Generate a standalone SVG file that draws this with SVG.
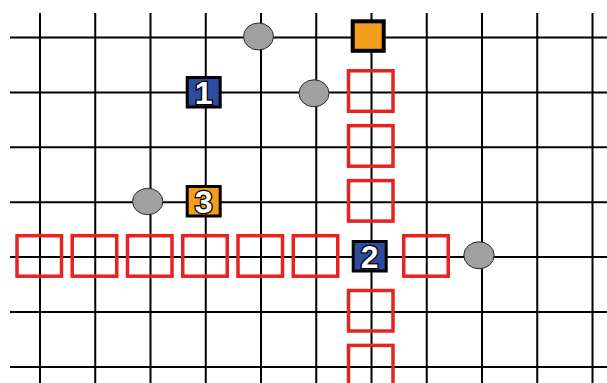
<svg xmlns="http://www.w3.org/2000/svg" width="607" height="383" viewBox="0 0 607 383">
<style>
.g{stroke:#000;stroke-width:2;fill:none}
.red{fill:none;stroke:#E52421;stroke-width:3.5}
.dot{fill:#A0A0A0;stroke:#2a2a2a;stroke-width:1}
.blue{fill:#2F4B9E;stroke:#000;stroke-width:3}
.org{fill:#F59E1E;stroke:#000;stroke-width:3}
.num{font-family:"Liberation Sans",Arial,sans-serif;font-weight:bold;font-size:32px;fill:#fff;stroke:#000;stroke-width:2.6;paint-order:stroke;text-anchor:middle}
</style>
<rect width="607" height="383" fill="#fff"/>
<g id="connectors">
<path class="g" d="M40 13V383M95.25 13V383M150.5 13V383M205.75 13V383M261 13V383M316.25 13V383M371.5 13V383M426.75 13V383M482 13V383M537.25 13V383M592.5 13V383"/>
<path class="g" d="M10 37.5H607M10 92.4H607M10 147.3H607M10 202.2H607M10 257.1H607M10 312H607M10 366.9H607"/>
</g>
<g id="red-squares">
<rect class="red" x="17" y="235.7" width="44.5" height="40.5"/>
<rect class="red" x="72.25" y="235.7" width="44.5" height="40.5"/>
<rect class="red" x="127.5" y="235.7" width="44.5" height="40.5"/>
<rect class="red" x="182.75" y="235.7" width="44.5" height="40.5"/>
<rect class="red" x="238" y="235.7" width="44.5" height="40.5"/>
<rect class="red" x="293.25" y="235.7" width="44.5" height="40.5"/>
<rect class="red" x="403.75" y="235.7" width="44.5" height="40.5"/>
<rect class="red" x="348.5" y="70.8" width="44.5" height="40.5"/>
<rect class="red" x="348.5" y="125.7" width="44.5" height="40.5"/>
<rect class="red" x="348.5" y="180.6" width="44.5" height="40.5"/>
<rect class="red" x="348.5" y="290.5" width="44.5" height="40.5"/>
<rect class="red" x="348.5" y="345.4" width="44.5" height="40.5"/>
</g>
<g id="dot1"><ellipse class="dot" cx="258.5" cy="36.5" rx="15" ry="13.5"/></g>
<g id="dot2"><ellipse class="dot" cx="314" cy="93.3" rx="15" ry="13.5"/></g>
<g id="dot3"><ellipse class="dot" cx="147.7" cy="201.5" rx="15.2" ry="13.2"/></g>
<g id="dot4"><ellipse class="dot" cx="479" cy="255.3" rx="15.2" ry="13.5"/></g>
<g id="orange-top"><rect x="352.7" y="21.3" width="31" height="29.5" fill="#F59E1E" stroke="#000" stroke-width="4"/></g>
<g id="node1"><rect class="blue" x="187.2" y="77.5" width="33" height="29.5"/><text class="num" x="203.7" y="103.8">1</text></g>
<g id="node3"><rect class="org" x="187.2" y="186.5" width="33" height="29.5"/><text class="num" x="203.7" y="212.8">3</text></g>
<g id="node2"><rect class="blue" x="353.2" y="241.5" width="33" height="29.5"/><text class="num" x="369.7" y="267.8">2</text></g>
</svg>
